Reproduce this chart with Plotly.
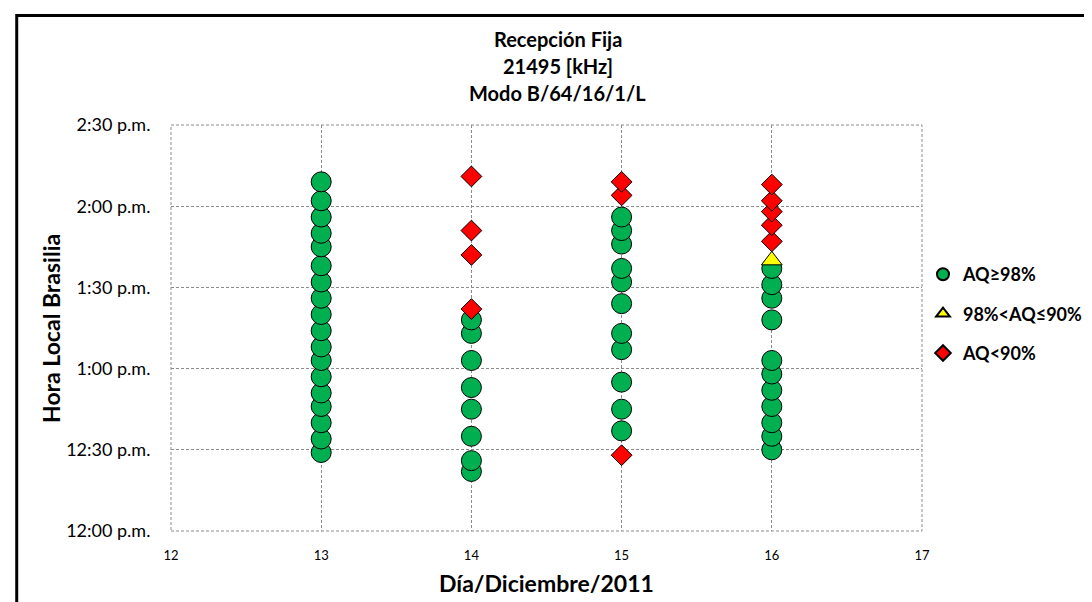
import plotly.graph_objects as go

# ---- data (times are local Brasilia time, 24h "HH:MM") ----
days = [13, 14, 15, 16]

ok_13 = ["12:29", "12:34", "12:40", "12:46", "12:51", "12:57", "13:03", "13:08", "13:14",
         "13:20", "13:26", "13:32", "13:38", "13:45", "13:50", "13:56", "14:02", "14:09"]
ok_14 = ["12:22", "12:26", "12:35", "12:45", "12:53", "13:03", "13:13", "13:18"]
ok_15 = ["12:37", "12:45", "12:55", "13:07", "13:13", "13:24", "13:32", "13:37", "13:46",
         "13:51", "13:56"]
ok_16 = ["12:30", "12:35", "12:40", "12:46", "12:52", "12:58", "13:03", "13:18", "13:26",
         "13:31", "13:37"]

mid_16 = ["13:40"]

bad_14 = ["13:22", "13:42", "13:51", "14:11"]
bad_15 = ["12:28", "14:04", "14:09"]
bad_16 = ["13:47", "13:53", "13:58", "14:02", "14:08"]

ok_times = [ok_13, ok_14, ok_15, ok_16]
mid_times = [[], [], [], mid_16]
bad_times = [[], bad_14, bad_15, bad_16]

y_tickvals = [0, 30, 60, 90, 120, 150]
y_ticktext = ["12:00 p.m.", "12:30 p.m.", "1:00 p.m.", "1:30 p.m.", "2:00 p.m.", "2:30 p.m."]
x_tickvals = [12, 13, 14, 15, 16, 17]

series_names = ["AQ≥98%", "98%<AQ≤90%", "AQ<90%"]
title_lines = ["Recepción Fija", "21495 [kHz]", "Modo B/64/16/1/L"]
x_title = "Día/Diciembre/2011"
y_title = "Hora Local Brasilia"


def to_min(t):
    h, m = map(int, t.split(":"))
    return (h - 12) * 60 + m


def flatten(groups):
    xs, ys = [], []
    for d, g in zip(days, groups):
        for t in g:
            xs.append(d)
            ys.append(to_min(t))
    return xs, ys


FONT = "Lato"
fig = go.Figure()

x, y = flatten(ok_times)
fig.add_trace(go.Scatter(x=x, y=y, mode="markers", name=series_names[0], legendgroup="a",
                         marker=dict(symbol="circle", size=20, color="#00B050",
                                     line=dict(color="black", width=1))))
x, y = flatten(mid_times)
fig.add_trace(go.Scatter(x=x, y=y, mode="markers", name=series_names[1], legendgroup="b",
                         marker=dict(symbol="triangle-up", size=18, color="#FFFF00",
                                     line=dict(color="black", width=1))))
x, y = flatten(bad_times)
fig.add_trace(go.Scatter(x=x, y=y, mode="markers", name=series_names[2], legendgroup="c",
                         marker=dict(symbol="diamond", size=16, color="#FF0000",
                                     line=dict(color="black", width=1))))

L, R, T, B = 163, 172, 117, 79
W, H = 1092, 602
pw, ph = W - L - R, H - T - B


def px_x(p):
    return (p - L) / pw


def px_y(p):
    return (H - B - p) / ph


annotations = []
for i, line in enumerate(title_lines):
    annotations.append(dict(text=f"<b>{line}</b>", x=px_x(553), y=px_y(31 + 27 * i),
                            xref="paper", yref="paper", showarrow=False,
                            xanchor="center", yanchor="middle",
                            font=dict(family=FONT, size=20, color="black")))
annotations.append(dict(text=f"<b>{x_title}</b>", x=px_x(541), y=px_y(575), xref="paper",
                        yref="paper", showarrow=False, xanchor="center", yanchor="middle",
                        font=dict(family=FONT, size=23, color="black")))
annotations.append(dict(text=f"<b>{y_title}</b>", x=px_x(42), y=px_y(320), xref="paper",
                        yref="paper", showarrow=False, xanchor="center", yanchor="middle",
                        textangle=-90, font=dict(family=FONT, size=23, color="black")))

shapes = [
    dict(type="rect", xref="paper", yref="paper", x0=0, x1=1, y0=0, y1=1,
         line=dict(color="#8C8C8C", width=1, dash="3px,2px"), layer="below"),
    dict(type="rect", xref="paper", yref="paper", x0=px_x(7.5), x1=px_x(1120),
         y0=px_y(640), y1=px_y(7.5), line=dict(color="black", width=3)),
]

fig.update_layout(
    width=W, height=H,
    margin=dict(l=L, r=R, t=T, b=B),
    paper_bgcolor="white", plot_bgcolor="white",
    showlegend=True,
    legend=dict(x=px_x(921), y=px_y(248), xanchor="left", yanchor="top",
                font=dict(family=FONT, size=18, color="black", weight="bold"),
                itemsizing="constant", tracegroupgap=13, bgcolor="rgba(0,0,0,0)"),
    annotations=annotations,
    shapes=shapes,
    font=dict(family=FONT, color="black"),
)
fig.update_xaxes(range=[12, 17], tickvals=x_tickvals, showgrid=True, gridcolor="#8C8C8C",
                 griddash="3px,2px", gridwidth=1, zeroline=False, showline=False,
                 ticks="outside", ticklen=12, tickcolor="rgba(0,0,0,0)",
                 tickfont=dict(family=FONT, size=13, color="black"))
fig.update_yaxes(range=[0, 150], tickvals=y_tickvals, ticktext=y_ticktext, showgrid=True,
                 gridcolor="#8C8C8C", griddash="3px,2px", gridwidth=1, zeroline=False,
                 showline=False, ticks="outside", ticklen=16, tickcolor="rgba(0,0,0,0)",
                 tickfont=dict(family=FONT, size=18, color="black"))

fig.write_html("out.html")
